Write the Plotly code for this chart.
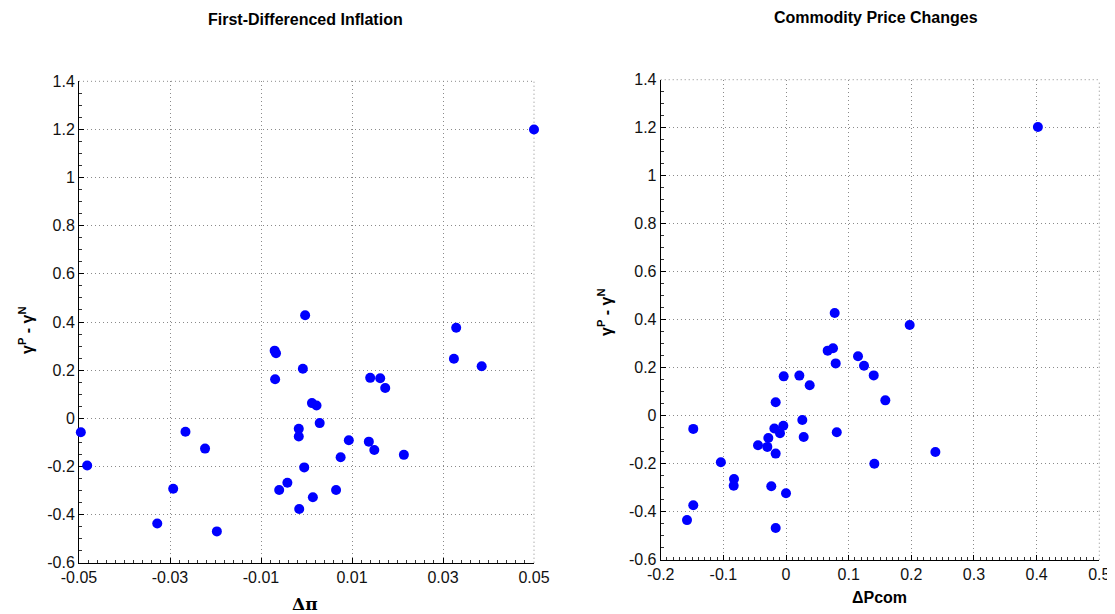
import plotly.graph_objects as go

# ---- data: left panel (first-differenced inflation) ----
dpi = [0.050, -0.0496, -0.0482, -0.0328, -0.0293, -0.0266, -0.0223, -0.0197,
       -0.0070, -0.0067, -0.0069, -0.0003, -0.0008, -0.0017, -0.0017, -0.0005,
       -0.0042, -0.0060, -0.0016, 0.0012, 0.0022, 0.0029, 0.0093, 0.0137,
       0.0149, 0.0214, 0.0075, 0.0140, 0.0162, 0.0173, 0.0329, 0.0324,
       0.0385, 0.0014, 0.0065]
gap_left = [1.200, -0.058, -0.196, -0.437, -0.293, -0.056, -0.126, -0.470,
            0.281, 0.270, 0.162, 0.428, 0.206, -0.044, -0.076, -0.204,
            -0.268, -0.298, -0.377, 0.063, 0.053, -0.020, -0.091, -0.097,
            -0.132, -0.152, -0.162, 0.168, 0.166, 0.126, 0.376, 0.247,
            0.216, -0.328, -0.298]

# ---- data: right panel (commodity price changes) ----
dpcom = [0.0777, 0.0665, 0.0750, 0.0793, -0.0037, 0.0213, 0.0378, -0.0165,
         0.0260, -0.1480, -0.0186, -0.0043, -0.0096, -0.0282, 0.0282, 0.0810,
         -0.0447, -0.0298, -0.0165, -0.1040, -0.0830, -0.0835, -0.0235, 0.0000,
         -0.1480, -0.1580, -0.0165, 0.1974, 0.1149, 0.1245, 0.1400, 0.1585,
         0.2384, 0.1410, 0.4020]
gap_right = [0.428, 0.271, 0.281, 0.218, 0.164, 0.167, 0.127, 0.056,
             -0.018, -0.055, -0.053, -0.042, -0.073, -0.093, -0.089, -0.069,
             -0.123, -0.130, -0.158, -0.194, -0.264, -0.292, -0.294, -0.323,
             -0.373, -0.435, -0.468, 0.378, 0.2475, 0.208, 0.168, 0.064,
             -0.151, -0.200, 1.203]

left_xticks = [-0.05, -0.03, -0.01, 0.01, 0.03, 0.05]
left_xlabels = ["-0.05", "-0.03", "-0.01", "0.01", "0.03", "0.05"]
right_xticks = [-0.2, -0.1, 0, 0.1, 0.2, 0.3, 0.4, 0.5]
right_xlabels = ["-0.2", "-0.1", "0", "0.1", "0.2", "0.3", "0.4", "0.5"]
yticks = [-0.6, -0.4, -0.2, 0, 0.2, 0.4, 0.6, 0.8, 1.0, 1.2, 1.4]
ylabels = ["-0.6", "-0.4", "-0.2", "0", "0.2", "0.4", "0.6", "0.8", "1", "1.2", "1.4"]

titles = ["First-Differenced Inflation", "Commodity Price Changes"]

# page body has an 8px margin; figure fills the rest of the window
OFF = 8
W, H = 1115 - OFF, 614 - OFF
FONT = "Liberation Sans, Arial, sans-serif"
BLUE = "#0000FF"
GRID = "#8a8a8a"
GDASH = "1px,3px"


def px(x):
    return (x - OFF) / W


def py(y):
    return 1 - (y - OFF) / H


fig = go.Figure()
fig.add_trace(go.Scatter(x=dpi, y=gap_left, mode="markers", xaxis="x", yaxis="y",
                         marker=dict(color=BLUE, size=10, line=dict(width=0)),
                         showlegend=False, cliponaxis=False))
fig.add_trace(go.Scatter(x=dpcom, y=gap_right, mode="markers", xaxis="x2", yaxis="y2",
                         marker=dict(color=BLUE, size=10, line=dict(width=0)),
                         showlegend=False, cliponaxis=False))

common = dict(showline=True, linecolor="black", linewidth=1, ticks="inside",
              ticklen=5, tickcolor="black", showgrid=True, gridcolor=GRID,
              griddash=GDASH, gridwidth=1, zeroline=False, mirror=False,
              automargin=False, layer="below traces",
              tickfont=dict(family=FONT, size=16, color="#111111"))


def xaxis(dom, rng, tv, tt, anchor, mdt):
    d = dict(common)
    d.update(domain=dom, range=rng, tickvals=tv, ticktext=tt, anchor=anchor,
             minor=dict(ticks="inside", ticklen=3, tickcolor="#333333", dtick=mdt,
                        tick0=rng[0], showgrid=False))
    return d


def yaxis(dom, anchor):
    d = dict(common)
    d.update(domain=dom, range=[-0.6, 1.4], tickvals=yticks, ticktext=ylabels,
             anchor=anchor,
             minor=dict(ticks="inside", ticklen=3, tickcolor="#333333", dtick=0.05,
                        tick0=-0.6, showgrid=False))
    return d


fig.update_layout(
    width=W, height=H,
    margin=dict(l=0, r=0, t=0, b=0, autoexpand=False),
    paper_bgcolor="white", plot_bgcolor="white",
    xaxis=xaxis([px(79), px(534)], [-0.05, 0.05], left_xticks, left_xlabels, "y", 0.002),
    yaxis=yaxis([py(562.7), py(81.3)], "x"),
    xaxis2=xaxis([px(660.7), px(1099.3)], [-0.2, 0.5], right_xticks, right_xlabels, "y2", 0.01),
    yaxis2=yaxis([py(559.7), py(79.7)], "x2"),
)

# dotted grid lines along the top and right edges of each panel (Plotly drops edge grids)
shapes = []
for xr, yr in (("x", "y"), ("x2", "y2")):
    shapes.append(dict(type="line", xref=xr + " domain", yref=yr + " domain",
                       x0=0, x1=1, y0=1, y1=1, layer="below",
                       line=dict(color=GRID, width=1, dash=GDASH)))
    shapes.append(dict(type="line", xref=xr + " domain", yref=yr + " domain",
                       x0=1, x1=1, y0=0, y1=1, layer="below",
                       line=dict(color=GRID, width=1, dash=GDASH)))
fig.update_layout(shapes=shapes)


def note(text, x, y, font, angle=0):
    return dict(text=text, x=px(x), y=py(y), xref="paper", yref="paper",
                xanchor="center", yanchor="middle", showarrow=False,
                textangle=angle, font=font)


ann = [
    note("<b>" + titles[0] + "</b>", 305, 19, dict(family=FONT, size=16, color="black")),
    note("<b>" + titles[1] + "</b>", 876, 18, dict(family=FONT, size=16, color="black")),
    note("<b>Δπ</b>", 305, 604, dict(family="DejaVu Serif, serif", size=17, color="black")),
    note("<b>ΔPcom</b>", 879, 597, dict(family=FONT, size=16, color="black")),
]
ylab = "<b>γ<sup>P</sup> - γ<sup>N</sup></b>"
ann.append(note(ylab, 26, 330, dict(family=FONT, size=16, color="black"), -90))
ann.append(note(ylab, 605, 312, dict(family=FONT, size=16, color="black"), -90))
fig.update_layout(annotations=ann)

fig.write_html("out.html")
